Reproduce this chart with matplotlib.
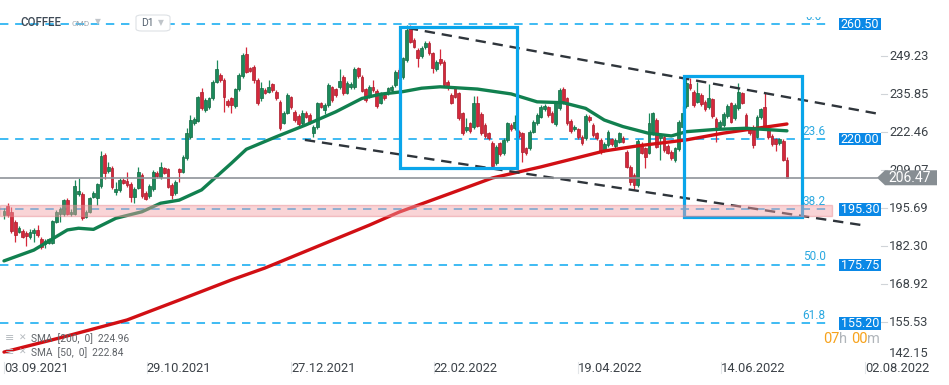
import numpy as np
import matplotlib.pyplot as plt
from matplotlib.patches import Rectangle, Polygon, FancyBboxPatch
from matplotlib.transforms import blended_transform_factory as blend, Bbox

plt.rcParams['font.family'] = ['Roboto', 'DejaVu Sans']

# daily candles, COFFEE (D1)
opens = [193.4, 196.6, 194.4, 191.0, 187.5, 187.8, 187.1, 185.7, 187.1, 188.1,
         184.8, 183.1, 183.6, 183.6, 191.0, 193.7, 193.7, 198.6, 193.7, 193.7,
         200.7, 200.7, 192.8, 194.5, 199.8, 199.2, 203.7, 214.5, 209.0, 210.0,
         201.6, 202.2, 205.7, 205.3, 204.3, 199.6, 203.0, 207.4, 201.2, 200.1,
         202.5, 208.2, 206.8, 209.8, 209.4, 203.9, 201.2, 209.4, 208.6, 213.3,
         220.7, 225.6, 226.6, 236.6, 230.3, 231.5, 234.4, 240.3, 242.6, 240.9,
         233.5, 234.4, 231.7, 237.6, 242.3, 250.0, 245.0, 245.6, 240.9, 234.4,
         237.4, 236.8, 239.5, 236.8, 233.3, 225.9, 229.4, 234.8, 229.7, 228.2,
         225.6, 229.4, 228.6, 222.1, 224.4, 232.7, 230.3, 232.1, 238.3, 237.6,
         238.3, 242.1, 236.4, 238.3, 238.3, 245.0, 242.1, 237.6, 235.0, 238.5,
         237.1, 232.9, 235.6, 236.2, 237.4, 239.1, 244.4, 241.9, 248.0, 259.1,
         255.0, 251.5, 249.3, 252.4, 254.0, 250.3, 244.7, 248.2, 247.4, 240.3,
         235.6, 237.9, 236.2, 229.2, 223.3, 225.6, 224.4, 232.9, 228.9, 225.0,
         222.1, 218.8, 211.6, 218.6, 215.1, 219.8, 225.0, 223.9, 222.7, 222.1,
         216.8, 216.8, 222.7, 225.6, 228.0, 230.6, 231.3, 229.4, 225.4, 230.9,
         237.7, 234.4, 226.6, 223.5, 223.5, 220.9, 220.4, 228.0, 225.0, 222.1,
         219.8, 216.2, 218.0, 220.0, 217.7, 219.2, 220.4, 215.6, 210.4, 207.4,
         203.9, 218.4, 216.8, 215.3, 222.1, 226.8, 220.4, 220.9, 217.7, 215.6,
         212.7, 216.5, 224.5, 231.7, 239.5, 236.8, 233.3, 235.6, 233.3, 231.3,
         234.1, 227.1, 224.5, 225.0, 228.2, 232.7, 227.4, 230.9, 236.2, 228.6,
         223.9, 224.5, 220.9, 227.8, 231.3, 223.3, 221.2, 220.0, 218.6, 219.5,
         212.9]
closes = [194.8, 193.4, 187.7, 186.3, 188.9, 185.7, 185.9, 187.5, 188.1, 186.3,
          182.2, 184.2, 184.8, 191.2, 194.5, 195.5, 198.6, 193.7, 194.5, 203.6,
          201.8, 192.2, 194.5, 199.2, 201.2, 204.3, 214.1, 208.1, 210.4, 203.1,
          202.5, 205.7, 204.8, 203.9, 199.8, 202.5, 208.5, 200.1, 199.0, 203.6,
          208.6, 207.1, 210.2, 208.3, 203.3, 200.4, 205.1, 208.6, 213.9, 222.1,
          226.8, 227.1, 234.8, 230.9, 233.9, 234.4, 240.3, 244.7, 240.9, 235.0,
          232.1, 232.1, 237.6, 242.7, 249.7, 243.8, 244.2, 240.9, 232.9, 237.9,
          236.4, 238.5, 237.4, 234.4, 223.9, 229.4, 235.6, 231.3, 226.8, 225.4,
          229.2, 228.0, 225.9, 224.4, 232.7, 231.5, 232.1, 239.1, 233.9, 235.6,
          240.6, 236.2, 240.0, 239.5, 244.7, 242.3, 237.1, 233.9, 238.5, 237.4,
          231.7, 236.2, 234.4, 238.0, 238.5, 243.8, 241.5, 248.5, 258.5, 254.4,
          252.6, 248.5, 252.1, 254.0, 250.3, 245.0, 247.4, 246.8, 239.1, 238.5,
          232.9, 235.0, 227.4, 222.1, 224.5, 223.0, 232.7, 224.8, 222.1, 221.2,
          220.4, 210.6, 217.4, 214.8, 219.8, 225.6, 223.5, 226.2, 221.2, 215.6,
          215.1, 222.7, 226.2, 228.6, 231.5, 231.7, 228.6, 226.2, 232.7, 237.4,
          232.9, 225.6, 223.0, 224.4, 220.7, 218.8, 228.2, 226.8, 221.5, 220.4,
          215.6, 218.4, 222.7, 218.4, 219.8, 222.1, 219.2, 210.4, 205.1, 203.9,
          219.5, 215.3, 213.9, 225.6, 229.2, 217.4, 221.5, 216.2, 215.3, 213.3,
          216.8, 226.2, 229.2, 239.7, 238.0, 232.1, 236.2, 232.4, 230.6, 234.4,
          228.2, 224.5, 226.2, 228.9, 231.7, 226.2, 232.1, 236.8, 232.9, 223.9,
          222.1, 218.0, 228.0, 230.6, 224.5, 220.7, 218.4, 218.4, 220.0, 212.9,
          206.5]
highs = [195.8, 197.5, 196.0, 191.5, 189.5, 188.3, 187.8, 188.3, 188.8, 189.8,
         185.5, 184.8, 185.3, 191.6, 195.0, 196.3, 199.1, 199.3, 195.3, 205.7,
         206.5, 201.3, 195.0, 199.8, 201.8, 204.8, 215.9, 215.2, 212.0, 210.6,
         205.1, 206.3, 206.4, 208.6, 205.0, 203.1, 210.4, 208.0, 201.8, 204.2,
         209.1, 208.9, 212.0, 210.4, 210.0, 204.5, 205.7, 210.0, 214.5, 224.0,
         228.6, 227.8, 235.3, 238.1, 234.5, 235.0, 240.9, 247.9, 243.2, 241.5,
         234.1, 235.0, 238.2, 243.3, 250.3, 252.4, 245.6, 246.2, 241.5, 240.3,
         238.0, 240.9, 240.0, 237.4, 233.9, 230.0, 236.2, 235.4, 230.3, 228.8,
         230.3, 230.0, 229.2, 225.0, 233.3, 233.3, 232.7, 239.7, 238.9, 238.2,
         244.8, 242.7, 240.6, 240.1, 245.3, 245.6, 242.7, 238.2, 239.1, 240.9,
         237.7, 236.8, 236.2, 238.6, 239.1, 244.4, 245.0, 249.1, 260.3, 260.3,
         255.6, 252.1, 252.7, 254.6, 254.6, 250.9, 248.0, 251.7, 248.0, 241.0,
         236.2, 238.5, 236.8, 229.8, 227.5, 226.2, 235.3, 235.3, 229.5, 225.6,
         222.7, 219.4, 218.0, 219.2, 220.4, 226.2, 225.6, 228.6, 223.3, 222.7,
         217.4, 223.3, 226.8, 229.2, 232.1, 232.3, 231.9, 230.0, 233.3, 238.0,
         238.3, 235.0, 227.2, 225.0, 224.1, 221.5, 228.8, 228.6, 225.6, 222.7,
         220.4, 219.0, 223.3, 220.6, 220.4, 222.7, 221.0, 216.2, 211.0, 208.0,
         220.1, 219.0, 217.4, 229.3, 229.8, 227.4, 222.1, 221.5, 218.3, 216.2,
         217.4, 226.8, 231.7, 241.6, 241.5, 237.4, 240.3, 236.2, 233.9, 239.5,
         234.7, 227.7, 226.8, 229.5, 232.3, 233.3, 232.7, 239.8, 236.8, 229.2,
         224.5, 225.1, 228.6, 231.2, 236.2, 223.9, 221.8, 220.6, 220.6, 220.1,
         213.9]
lows = [191.9, 192.8, 187.0, 183.9, 187.0, 185.3, 182.4, 184.9, 183.7, 185.6,
        181.4, 181.9, 183.0, 183.2, 190.4, 190.9, 193.0, 193.2, 193.1, 193.2,
        199.9, 191.6, 192.3, 194.0, 199.2, 196.9, 202.8, 206.0, 208.0, 202.4,
        200.4, 201.5, 204.2, 203.3, 197.9, 197.5, 202.4, 199.5, 198.6, 199.5,
        201.9, 206.5, 206.2, 207.7, 202.7, 199.0, 200.4, 205.0, 208.0, 212.7,
        220.0, 225.0, 226.0, 230.3, 229.6, 230.8, 233.8, 239.7, 240.3, 229.7,
        231.5, 229.4, 231.1, 237.0, 241.7, 243.2, 243.6, 239.9, 232.2, 233.4,
        235.8, 236.2, 236.8, 233.8, 223.3, 225.3, 228.8, 230.7, 226.2, 224.8,
        225.0, 227.4, 225.3, 220.7, 223.8, 230.9, 229.0, 231.5, 233.3, 235.0,
        237.7, 235.6, 235.8, 237.7, 237.7, 241.7, 236.5, 233.3, 234.4, 236.8,
        231.1, 232.3, 233.8, 235.6, 236.8, 238.5, 240.9, 241.3, 247.4, 253.8,
        252.0, 245.6, 248.7, 251.8, 249.7, 243.3, 244.1, 246.2, 238.5, 237.2,
        232.3, 234.4, 226.8, 221.5, 222.7, 222.4, 223.8, 224.2, 221.5, 220.6,
        219.8, 209.9, 211.0, 214.2, 214.5, 219.2, 222.9, 223.3, 220.6, 212.1,
        214.5, 216.2, 222.1, 225.0, 227.4, 230.0, 228.0, 225.6, 224.8, 230.3,
        232.3, 225.0, 222.4, 222.9, 220.1, 218.0, 219.8, 226.2, 220.9, 219.8,
        215.0, 215.6, 217.4, 217.8, 217.1, 218.6, 218.6, 209.8, 203.9, 202.2,
        203.3, 214.7, 209.8, 214.7, 221.5, 216.8, 212.9, 215.6, 214.7, 212.7,
        212.1, 215.9, 223.9, 231.1, 237.4, 231.5, 232.7, 231.8, 230.0, 230.7,
        227.6, 219.2, 223.9, 224.4, 227.6, 225.6, 226.8, 230.3, 232.3, 223.3,
        221.5, 216.8, 220.3, 227.2, 223.9, 220.1, 217.8, 216.0, 218.0, 212.3,
        206.5]

# moving averages (bar index, value)
sma200_idx = [0, 15, 33, 47, 61, 70, 85, 98, 106, 120, 131, 144, 161, 170, 183, 193, 210]
sma200_val = [145.1, 150.1, 156.4, 163.4, 170.5, 174.7, 182.8, 189.8, 194.4, 201.1,
              206.4, 210.3, 215.9, 217.7, 219.8, 222.2, 225.4]
sma50_idx = [0, 8, 17, 20, 24, 30, 37, 42, 47, 53, 61, 65, 73, 81, 89, 96, 101,
             107, 112, 117, 127, 136, 143, 150, 156, 161, 166, 173, 179, 183, 191, 199, 210]
sma50_val = [177.2, 181.0, 188.1, 188.7, 188.3, 192.2, 194.5, 197.5, 198.6, 202.2,
             211.6, 216.5, 220.9, 225.1, 229.7, 234.4, 235.9, 236.8, 238.0, 238.5,
             237.7, 236.0, 233.2, 232.9, 230.9, 226.8, 224.5, 222.1, 221.2, 222.7,
             223.5, 223.9, 223.0]

fib_labels = ['0.0', '23.6', '38.2', '50.0', '61.8']
fib_values = [260.50, 220.00, 195.30, 175.75, 155.20]
price_ticks = [249.23, 235.85, 222.46, 209.07, 195.69, 182.30, 168.92, 155.53, 142.15]
date_labels = ['03.09.2021', '29.10.2021', '27.12.2021', '22.02.2022',
               '19.04.2022', '14.06.2022', '02.08.2022']
date_pos = [0, 38.3, 77, 115.3, 154, 192.2, 231]
last_price = 206.47

# channel lines and boxes (bar index, price)
upper_x, upper_y = [108.3, 234.9], [259.2, 228.9]
lower_x, lower_y = [80.7, 230.1], [219.8, 189.8]
boxes = [(106.3, 137.6, 209.8, 259.6), (182.5, 214.1, 192.6, 242.3)]
zone = (193.1, 196.9)

W, H = 949, 385
AX_R, AX_B = 885, 362
fig = plt.figure(figsize=(W / 100, H / 100), dpi=100)
ax = fig.add_axes([0, 1 - AX_B / H, AX_R / W, AX_B / H])
ax.set_xlim(-1.07, 236.3)
ax.set_ylim(141.6, 269.06)
ax.axis('off')

fx = lambda px: px / W
fy = lambda py: 1 - py / H
xa = lambda px: px / AX_R
ax_y = blend(ax.transAxes, ax.transData)
fig_y = blend(fig.transFigure, ax.transData)
dat_figy = blend(ax.transData, fig.transFigure)

# candles
o, c = np.array(opens), np.array(closes)
hi, lo = np.array(highs), np.array(lows)
idx = np.arange(len(c))
up = c >= o
GREEN, RED = '#1b8a5c', '#d5283b'
cols = np.where(up, GREEN, RED)
edges = np.where(up, '#12683f', '#a81d2c')
ax.vlines(idx, lo, hi, colors=cols, lw=0.9, zorder=2)
ax.bar(idx, np.maximum(np.abs(c - o), 0.4), bottom=np.minimum(o, c), width=0.74,
       color=cols, edgecolor=edges, linewidth=0.5, zorder=2.5)

# fibo levels
for lab, v in zip(fib_labels, fib_values):
    ax.plot([-1.07, 220.7], [v, v], color='#0aa8f0', lw=1.1, dashes=(5.5, 4.4), zorder=1.5)
    t = ax.text(xa(814), v + 0.6, lab, transform=ax_y, ha='center', va='bottom',
                fontsize=8.5, color='#2aa8e0', zorder=7)
    if lab == '0.0':
        t.set_clip_box(Bbox([[0, 0], [W, H - 17]]))
        t.set_clip_on(True)
    ax.add_patch(Rectangle((xa(839), v - 2.17), xa(880.7) - xa(839), 4.34, transform=ax_y,
                           fc='#0a88e6', ec='none', clip_on=False, zorder=8))
    ax.text(xa(860), v, f'{v:.2f}', transform=ax_y, ha='center', va='center',
            fontsize=9, color='white', zorder=9, clip_on=False)

# moving averages
ax.plot(sma200_idx, sma200_val, color='#d10f14', lw=2.4, solid_capstyle='round',
        solid_joinstyle='round', zorder=3)
ax.plot(sma50_idx, sma50_val, color='#11804f', lw=2.4, solid_capstyle='round',
        solid_joinstyle='round', zorder=3)

# channel
for xs, ys in [(upper_x, upper_y), (lower_x, lower_y)]:
    ax.plot(xs, ys, color='#2f353b', lw=1.7, dashes=(4.4, 2.9), zorder=4)

for x0, x1, y0, y1 in boxes:
    ax.add_patch(Rectangle((x0, y0), x1 - x0, y1 - y0, fill=False, ec='#0aa5ea',
                           lw=2.3, zorder=5))

# support zone
ax.add_patch(Rectangle((-1.07, zone[0]), 223.1, zone[1] - zone[0], fc='#f3a0a6',
                       ec='#e8868d', lw=1, alpha=0.45, zorder=6))

# current price
ax.plot([0, xa(877)], [last_price, last_price], transform=ax_y, color='#8f9499',
        lw=1.2, zorder=4)
hh = 2.64
ax.add_patch(Polygon([(fx(877), last_price), (fx(885), last_price + hh), (fx(937), last_price + hh),
                      (fx(937), last_price - hh), (fx(885), last_price - hh)],
                     closed=True, transform=fig_y, fc='#878e93', ec='none',
                     clip_on=False, zorder=10))
ax.text(fx(910), last_price, f'{last_price:.2f}', transform=fig_y, ha='center', va='center',
        fontsize=10, color='white', zorder=11, clip_on=False)

# right price scale
for v in price_ticks:
    yv = v if v > 145 else v + 2.3
    ax.text(fx(889), yv, f'{v:.2f}', transform=fig_y, ha='left', va='center',
            fontsize=9.3, color='#3c4248', clip_on=False, zorder=5)
    if v > 145:
        ax.plot([xa(881), xa(887)], [v, v], transform=ax_y, color='#d0d4d8', lw=0.8,
                clip_on=False)

# date scale
for p, lab in zip(date_pos, date_labels):
    ax.plot([p, p], [fy(362), fy(373)], transform=dat_figy, color='#e3e6e9', lw=0.8,
            clip_on=False)
    ax.text(p, fy(368), lab, transform=dat_figy, ha='left', va='center',
            fontsize=9.3, color='#3c4248', clip_on=False)

# countdown
for xp, s, col in [(823, '07', '#f7a21b'), (839.5, 'h', '#b0b5ba'),
                   (851, '00', '#f7a21b'), (867, 'm', '#b0b5ba')]:
    fig.text(fx(xp), fy(339), s, ha='left', va='center', fontsize=10.5, color=col)

# indicator legend
for yp, s in [(338.5, 'SMA  [200,  0]  224.96'), (352.5, 'SMA  [50,  0]  222.84')]:
    fig.text(fx(5), fy(yp), '≡', ha='left', va='center', fontsize=8, color='#b5babf')
    fig.text(fx(19), fy(yp), '✕', ha='left', va='center', fontsize=6.5, color='#b5babf')
    fig.text(fx(31.5), fy(yp), s, ha='left', va='center', fontsize=7.3, color='#5f6368')

# header
fig.text(fx(20), fy(23), 'COFFEE', ha='left', va='center', fontsize=8.3,
         color='#3e4a56', fontweight='medium')
fig.text(fx(71), fy(24.5), 'CMD', ha='left', va='center', fontsize=6, color='#a0a8b0')
fig.text(fx(95), fy(22), '▼', ha='left', va='center', fontsize=5.5, color='#c0c5ca')
fig.add_artist(FancyBboxPatch((fx(136), fy(31)), fx(170) - fx(136), fy(15) - fy(31),
                              boxstyle='round,pad=0,rounding_size=0.006',
                              transform=fig.transFigure, fc='white', ec='#dde1e5', lw=0.8))
fig.text(fx(141), fy(23.5), 'D1', ha='left', va='center', fontsize=7.5, color='#556270')
fig.text(fx(158), fy(23), '▼', ha='left', va='center', fontsize=5.5, color='#c0c5ca')

fig.savefig('out.png', dpi=100)
